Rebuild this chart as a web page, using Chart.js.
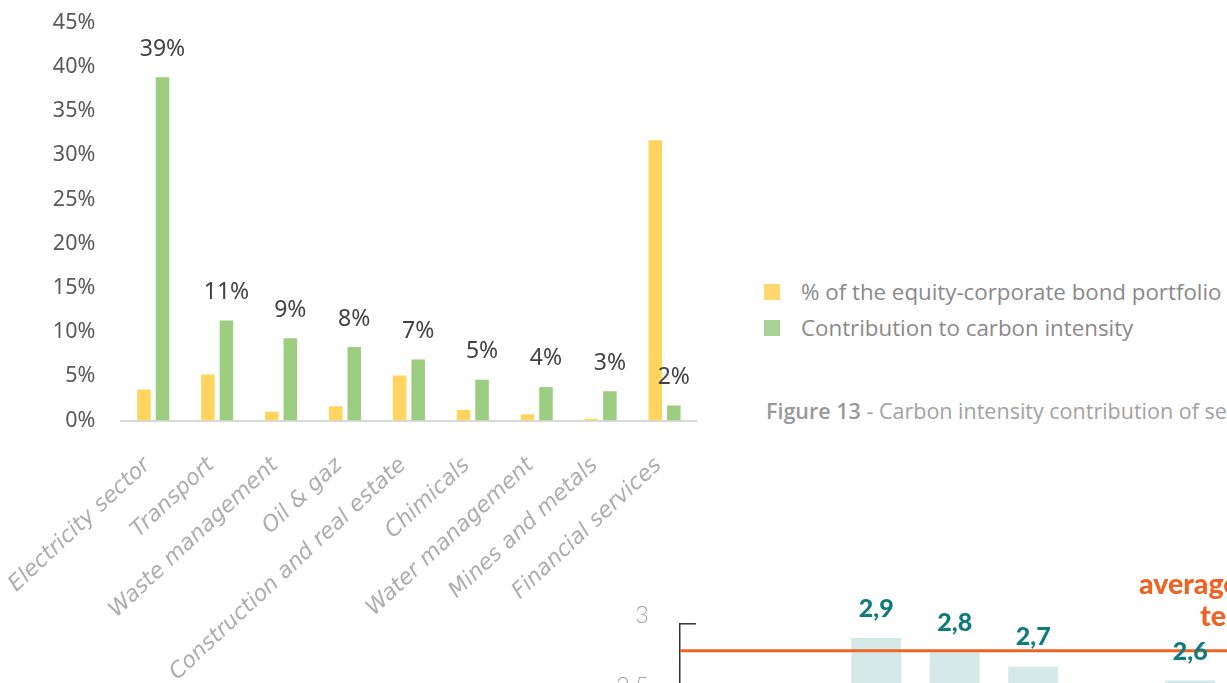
<!DOCTYPE html>
<html><head><meta charset="utf-8">
<script src="https://cdn.jsdelivr.net/npm/chart.js@4.4.1/dist/chart.umd.min.js"></script>
<style>
html,body{margin:0;padding:0;background:#fff;width:1227px;height:683px;overflow:hidden;position:relative;}
#c1wrap{position:absolute;left:0;top:0;width:720px;height:683px;}
#c2wrap{position:absolute;left:600px;top:560px;width:708px;height:220px;}
.leg{position:absolute;left:764px;font-family:"Open Sans",sans-serif;font-size:22.3px;color:#8a8a8a;white-space:nowrap;line-height:24px;}
.leg span.sw{position:absolute;left:0;top:0;width:16px;height:16px;}
.leg span.tx{position:absolute;left:37px;top:-4px;}
#caption{position:absolute;left:766px;top:399px;font-family:"Open Sans",sans-serif;font-size:21.5px;color:#a2a2a2;white-space:nowrap;line-height:24px;}
#caption b{font-weight:600;color:#999;}
.avg{position:absolute;font-family:Lato,sans-serif;font-weight:900;font-size:28.5px;color:#EE6424;white-space:nowrap;line-height:30px;}
</style></head>
<body>
<div id="c1wrap"><canvas id="c1"></canvas></div>
<div id="legend"></div>
<div id="caption"></div>
<div id="c2wrap"><canvas id="c2"></canvas></div>
<div class="avg" style="left:1139px;top:568px;">average</div>
<div class="avg" style="left:1200px;top:600px;">temperature</div>
<script>
// ---------- Chart 1 data ----------
const sectors = ['Electricity sector','Transport','Waste management','Oil & gaz','Construction and real estate','Chimicals','Water management','Mines and metals','Financial services'];
const portfolioShare = [3.5, 5.2, 1.0, 1.6, 5.1, 1.2, 0.7, 0.2, 31.7];
const carbonContribution = [38.8, 11.3, 9.3, 8.3, 6.9, 4.6, 3.8, 3.3, 1.7];
const seriesNames = ['% of the equity-corporate bond portfolio', 'Contribution to carbon intensity'];
const seriesColors = ['#FFD45F', '#9DCD80'];
const legendColors = ['#FFD96E', '#A8D394'];
const yMax1 = 45, yStep1 = 5;
const captionBold = 'Figure 13';
const captionText = ' - Carbon intensity contribution of sectors';

// ---------- Chart 2 data ----------
const scenarioLabels = ['', '', '', '', '', '', '', ''];
const scenarioValues = [null, null, 2.9, 2.8, 2.7, null, 2.6, null];
const scenarioValueLabels = ['', '', '2,9', '2,8', '2,7', '', '2,6', ''];
const averageLevel = 2.81;
const yMin2 = 2, yMax2 = 3, yStep2 = 0.5;

// legend + caption (HTML)
const legend = document.getElementById('legend');
[284, 320].forEach((top, i) => {
  const d = document.createElement('div');
  d.className = 'leg';
  d.style.top = top + 'px';
  d.innerHTML = '<span class="sw" style="background:' + legendColors[i] + '"></span><span class="tx"></span>';
  d.querySelector('.tx').textContent = seriesNames[i];
  legend.appendChild(d);
});
const cap = document.getElementById('caption');
const b = document.createElement('b'); b.textContent = captionBold;
cap.appendChild(b); cap.appendChild(document.createTextNode(captionText));

Chart.defaults.animation = false;

function noPad(s) { s.paddingTop = 0; s.paddingBottom = 0; s.paddingLeft = 0; s.paddingRight = 0; }

const valueLabels1 = {
  id: 'valueLabels1',
  afterDatasetsDraw(chart) {
    const ctx = chart.ctx;
    const meta = chart.getDatasetMeta(1);
    ctx.save();
    ctx.font = '23px "Noto Sans", sans-serif';
    ctx.fillStyle = '#424242';
    ctx.textAlign = 'center';
    ctx.textBaseline = 'middle';
    meta.data.forEach((el, i) => {
      ctx.fillText(Math.round(carbonContribution[i]) + '%', el.x, el.y - 28);
    });
    ctx.restore();
  }
};

new Chart(document.getElementById('c1'), {
  type: 'bar',
  data: {
    labels: sectors,
    datasets: [
      {label: seriesNames[0], data: portfolioShare, backgroundColor: seriesColors[0], categoryPercentage: 0.58, barPercentage: 0.73},
      {label: seriesNames[1], data: carbonContribution, backgroundColor: seriesColors[1], categoryPercentage: 0.58, barPercentage: 0.73}
    ]
  },
  options: {
    responsive: true, maintainAspectRatio: false,
    layout: {autoPadding: false, padding: {top: 22.5, right: 23.5, left: 0, bottom: 0}},
    plugins: {legend: {display: false}, tooltip: {enabled: false}},
    scales: {
      x: {
        grid: {display: false, drawTicks: false},
        border: {display: true, color: '#d9d9d9', width: 2},
        ticks: {
          autoSkip: false, minRotation: 43, maxRotation: 43, padding: 32, labelOffset: -6,
          color: '#adadad',
          font: {family: '"DejaVu Sans", sans-serif', size: 22, style: 'italic', weight: 200}
        },
        afterFit(s) { s.height = 262.5; noPad(s); }
      },
      y: {
        min: 0, max: yMax1,
        grid: {display: false, drawTicks: false},
        border: {display: false},
        ticks: {stepSize: yStep1, padding: 26, color: '#595959',
          font: {family: '"Noto Sans", sans-serif', size: 21.5},
          callback: v => v + '%'},
        afterFit(s) { s.width = 121.3; noPad(s); }
      }
    }
  },
  plugins: [valueLabels1]
});

const chart2Extras = {
  id: 'chart2Extras',
  afterDatasetsDraw(chart) {
    const ctx = chart.ctx;
    const ys = chart.scales.y;
    const area = chart.chartArea;
    ctx.save();
    const yTop = ys.getPixelForValue(yMax2);
    ctx.strokeStyle = '#333';
    ctx.lineWidth = 1.5;
    ctx.beginPath(); ctx.moveTo(area.left, yTop); ctx.lineTo(area.left + 16, yTop); ctx.stroke();
    const ya = ys.getPixelForValue(averageLevel);
    ctx.strokeStyle = '#EE6424';
    ctx.lineWidth = 3;
    ctx.beginPath(); ctx.moveTo(area.left, ya); ctx.lineTo(area.right, ya); ctx.stroke();
    const meta = chart.getDatasetMeta(0);
    ctx.font = '900 25px Lato, sans-serif';
    ctx.fillStyle = '#0F7B7A';
    ctx.textAlign = 'center';
    ctx.textBaseline = 'middle';
    meta.data.forEach((el, i) => {
      if (scenarioValues[i] == null) return;
      ctx.fillText(scenarioValueLabels[i], el.x, el.y - 29);
    });
    ctx.restore();
  }
};

new Chart(document.getElementById('c2'), {
  type: 'bar',
  data: {
    labels: scenarioLabels,
    datasets: [{data: scenarioValues, backgroundColor: '#D6E9E9', categoryPercentage: 0.637, barPercentage: 1}]
  },
  options: {
    responsive: true, maintainAspectRatio: false,
    layout: {autoPadding: false, padding: {top: 63.8, right: 0, left: 0, bottom: 14.2}},
    plugins: {legend: {display: false}, tooltip: {enabled: false}},
    scales: {
      x: {display: false},
      y: {
        min: yMin2, max: yMax2,
        grid: {display: false, drawTicks: false},
        border: {display: true, color: '#333', width: 1.5},
        ticks: {stepSize: yStep2, padding: 31, labelOffset: -9, color: '#a6a6a6',
          font: {family: 'Lato, sans-serif', size: 24, weight: 300},
          callback: v => String(v).replace('.', ',')},
        afterFit(s) { s.width = 80; noPad(s); }
      }
    }
  },
  plugins: [chart2Extras]
});
</script>
</body></html>
